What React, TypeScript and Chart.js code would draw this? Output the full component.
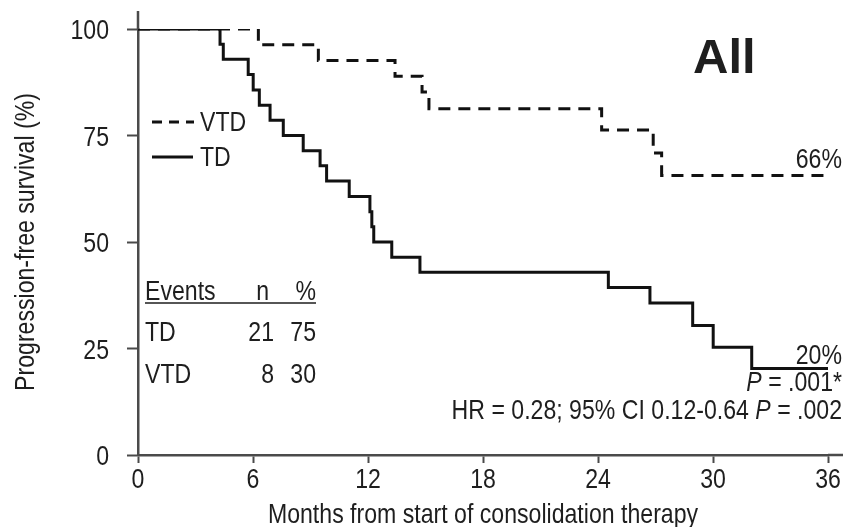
import React, { useEffect, useRef } from "react";
import { Chart, registerables } from "chart.js";

Chart.register(...registerables);

// ---- data ----
const tdMonths = [0, 4.28, 4.45, 5.75, 6.01, 6.33, 6.89, 7.58, 8.62, 9.5, 9.84, 11.02, 12.1, 12.2, 12.3, 13.24, 14.71, 24.54, 26.71, 28.94, 30.01, 32.02, 36];
const tdSurvival = [100, 96.4, 92.9, 89.3, 85.7, 82.1, 78.6, 75.0, 71.4, 67.9, 64.3, 60.7, 57.1, 53.6, 50.0, 46.4, 42.9, 39.3, 35.7, 30.4, 25.3, 20.3, 20.3];
const vtdMonths = [0, 6.28, 9.41, 13.41, 14.82, 15.18, 24.19, 26.88, 27.32, 36];
const vtdSurvival = [100, 96.3, 92.6, 88.9, 85.2, 81.3, 76.3, 70.9, 65.6, 65.6];

const xTicks = [0, 6, 12, 18, 24, 30, 36];
const yTicks = [0, 25, 50, 75, 100];
const seriesNames = ["VTD", "TD"];
const xTitle = "Months from start of consolidation therapy";
const yTitle = "Progression-free survival (%)";
const panelTitle = "All";
const finalLabels = ["66%", "20%"];
const eventsHeader = ["Events", "n", "%"];
const eventsRows = [
  ["TD", "21", "75"],
  ["VTD", "8", "30"],
];
const pLogRank = ["P", " = .001*"];
const hrText = ["HR = 0.28; 95% CI 0.12-0.64 ", "P", " = .002"];

const FONT = "'Liberation Sans', Arial, sans-serif";
const TEXT = "#1e1e1e";
const AXIS = "#4a4a4a";
const LINE = "#111111";
const FS = 27.5;
const SX = 0.84; // horizontal condensing of the text face

function txt(
  ctx: CanvasRenderingContext2D,
  s: string,
  x: number,
  y: number,
  align: CanvasTextAlign,
  font: string = `${FS}px ${FONT}`,
  rot = 0
) {
  ctx.save();
  ctx.translate(x, y);
  if (rot) ctx.rotate(rot);
  ctx.scale(SX, 1);
  ctx.font = font;
  ctx.textAlign = align;
  ctx.textBaseline = "alphabetic";
  ctx.fillText(s, 0, 0);
  ctx.restore();
}

function measure(ctx: CanvasRenderingContext2D, s: string, font: string) {
  ctx.save();
  ctx.font = font;
  const w = ctx.measureText(s).width * SX;
  ctx.restore();
  return w;
}

const annotations = {
  id: "annotations",
  afterDraw(chart: any) {
    const ctx = chart.ctx as CanvasRenderingContext2D;
    const xs = chart.scales.x;
    const ys = chart.scales.y;
    const area = chart.chartArea;
    ctx.save();

    // axis line extensions
    ctx.strokeStyle = AXIS;
    ctx.lineWidth = 2.5;
    ctx.beginPath();
    ctx.moveTo(area.left, area.top);
    ctx.lineTo(area.left, 11);
    ctx.moveTo(area.right, area.bottom);
    ctx.lineTo(843, area.bottom);
    ctx.stroke();

    ctx.fillStyle = TEXT;

    // tick labels from the library's scales
    xs.ticks.forEach((t: any) => {
      txt(ctx, String(t.value), xs.getPixelForValue(t.value), area.bottom + 33, "center");
    });
    ys.ticks.forEach((t: any) => {
      txt(ctx, String(t.value), area.left - 29, ys.getPixelForValue(t.value) + 10, "right");
    });

    // axis titles
    txt(ctx, xTitle, (area.left + area.right) / 2, 523, "center");
    txt(ctx, yTitle, 34, (area.top + area.bottom) / 2, "center", `${FS}px ${FONT}`, -Math.PI / 2);

    // panel title
    ctx.font = `bold 49px ${FONT}`;
    ctx.textAlign = "left";
    ctx.textBaseline = "alphabetic";
    ctx.fillText(panelTitle, 693, 73);

    // final labels, anchored to curve ends
    const xEnd = xs.getPixelForValue(36) + 14;
    txt(ctx, finalLabels[0], xEnd, ys.getPixelForValue(vtdSurvival[vtdSurvival.length - 1]) - 8, "right");
    txt(ctx, finalLabels[1], xEnd, ys.getPixelForValue(tdSurvival[tdSurvival.length - 1]) - 5, "right");

    // right aligned mixed text
    const drawMixed = (parts: string[], italicIdx: number[], right: number, y: number) => {
      const fonts = parts.map((_, i) => (italicIdx.includes(i) ? `italic ${FS}px ${FONT}` : `${FS}px ${FONT}`));
      const widths = parts.map((p, i) => measure(ctx, p, fonts[i]));
      let x = right - widths.reduce((a, b) => a + b, 0);
      parts.forEach((p, i) => {
        txt(ctx, p, x, y, "left", fonts[i]);
        x += widths[i];
      });
    };
    drawMixed(pLogRank, [0], 842, 391);
    drawMixed(hrText, [1], 842, 419);

    // legend
    ctx.strokeStyle = LINE;
    ctx.lineWidth = 3;
    ctx.setLineDash([10, 7]);
    ctx.beginPath();
    ctx.moveTo(152, 122);
    ctx.lineTo(194, 122);
    ctx.stroke();
    ctx.setLineDash([]);
    ctx.beginPath();
    ctx.moveTo(152, 157);
    ctx.lineTo(193, 157);
    ctx.stroke();
    txt(ctx, seriesNames[0], 200, 131, "left");
    txt(ctx, seriesNames[1], 200, 166, "left");

    // events table
    txt(ctx, eventsHeader[0], 145, 300, "left");
    txt(ctx, eventsHeader[1], 269, 300, "right");
    txt(ctx, eventsHeader[2], 316, 300, "right");
    ctx.strokeStyle = TEXT;
    ctx.lineWidth = 1.5;
    ctx.beginPath();
    ctx.moveTo(145, 303);
    ctx.lineTo(316, 303);
    ctx.stroke();
    const rowY = [341, 383];
    eventsRows.forEach((r, i) => {
      txt(ctx, r[0], 145, rowY[i], "left");
      txt(ctx, r[1], 274, rowY[i], "right");
      txt(ctx, r[2], 316, rowY[i], "right");
    });

    ctx.restore();
  },
};

export default function App() {
  const ref = useRef<HTMLCanvasElement | null>(null);
  useEffect(() => {
    if (!ref.current) return;
    const chart = new Chart(ref.current, {
      type: "line",
      data: {
        datasets: [
          {
            label: seriesNames[0],
            data: vtdMonths.map((m, i) => ({ x: m, y: vtdSurvival[i] })),
            borderColor: LINE,
            borderWidth: 3,
            borderDash: [12, 8],
            pointRadius: 0,
            stepped: true,
            fill: false,
          },
          {
            label: seriesNames[1],
            data: tdMonths.map((m, i) => ({ x: m, y: tdSurvival[i] })),
            borderColor: LINE,
            borderWidth: 3,
            pointRadius: 0,
            stepped: true,
            fill: false,
          },
        ],
      },
      options: {
        animation: false,
        responsive: false,
        maintainAspectRatio: false,
        layout: { padding: { top: 29, right: 20, left: 0, bottom: 0 } },
        plugins: { legend: { display: false }, tooltip: { enabled: false } },
        scales: {
          x: {
            type: "linear",
            min: 0,
            max: 36,
            afterBuildTicks: (s: any) => {
              s.ticks = xTicks.map((v) => ({ value: v }));
            },
            afterFit: (s: any) => {
              s.height = 72;
            },
            ticks: { display: false },
            grid: { drawOnChartArea: false, drawTicks: true, tickLength: 8, tickColor: AXIS, tickWidth: 2 },
            border: { display: true, color: AXIS, width: 2.5 },
            title: { display: false },
          },
          y: {
            type: "linear",
            min: 0,
            max: 100,
            afterBuildTicks: (s: any) => {
              s.ticks = yTicks.map((v) => ({ value: v }));
            },
            afterFit: (s: any) => {
              s.width = 138;
            },
            ticks: { display: false },
            grid: { drawOnChartArea: false, drawTicks: true, tickLength: 11, tickColor: AXIS, tickWidth: 2 },
            border: { display: true, color: AXIS, width: 2.5 },
            title: { display: false },
          },
        },
      },
      plugins: [annotations],
    } as any);
    return () => chart.destroy();
  }, []);
  return (
    <div style={{ position: "fixed", left: 0, top: 0, width: 848, height: 527, background: "#fff" }}>
      <canvas ref={ref} width={848} height={527} style={{ display: "block", width: 848, height: 527 }} />
    </div>
  );
}
